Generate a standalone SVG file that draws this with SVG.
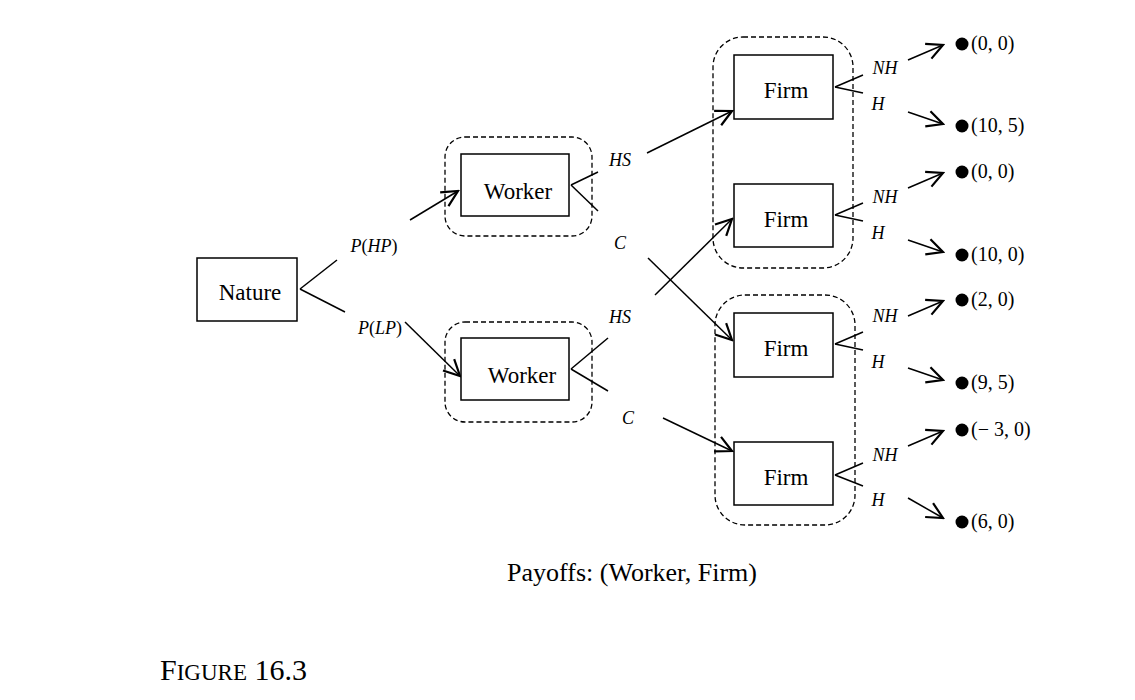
<svg xmlns="http://www.w3.org/2000/svg" width="1135" height="700" viewBox="0 0 1135 700" font-family="Liberation Serif, serif">
<defs>
<marker id="a" viewBox="0 0 20 20" refX="18" refY="10" markerWidth="20" markerHeight="20" markerUnits="userSpaceOnUse" orient="auto">
<path d="M2,2 L18,10 L2,18" fill="none" stroke="#000" stroke-width="2.2"/>
</marker>
</defs>
<style>
.b{fill:#fff;stroke:#000;stroke-width:1.5}
.d{fill:none;stroke:#000;stroke-width:1.3;stroke-dasharray:5,3}
.t{font-size:23px;text-anchor:middle}
.i{font-size:18px;font-style:italic;text-anchor:middle}
.p{font-size:20px}
line{stroke:#000;stroke-width:1.5}
.ar{marker-end:url(#a)}
</style>
<rect width="1135" height="700" fill="#fff"/>
<g id="groups">
<rect class="d" x="445" y="137" width="147" height="99" rx="20"/>
<rect class="d" x="445" y="322" width="147" height="100" rx="20"/>
<rect class="d" x="713" y="37" width="140" height="231" rx="30"/>
<rect class="d" x="715" y="295" width="140" height="230" rx="30"/>
</g>
<g id="connectors">
<line x1="300" y1="289" x2="337" y2="260"/>
<line x1="300" y1="289" x2="345" y2="312"/>
<line class="ar" x1="410" y1="220" x2="458" y2="191"/>
<line class="ar" x1="405" y1="322" x2="460" y2="376"/>
<line x1="571" y1="185" x2="598" y2="172"/>
<line x1="571" y1="185" x2="598" y2="211"/>
<line x1="571" y1="369" x2="608" y2="338"/>
<line x1="571" y1="369" x2="608" y2="391"/>
<line class="ar" x1="647" y1="153" x2="732" y2="111"/>
<line class="ar" x1="648" y1="258" x2="732" y2="340"/>
<line class="ar" x1="655" y1="295" x2="732" y2="219"/>
<line class="ar" x1="663" y1="418" x2="732" y2="451"/>
<line x1="835" y1="87" x2="863" y2="75"/><line x1="835" y1="87" x2="863" y2="93"/>
<line x1="835" y1="215" x2="863" y2="203"/><line x1="835" y1="215" x2="863" y2="221"/>
<line x1="835" y1="344" x2="863" y2="332"/><line x1="835" y1="344" x2="863" y2="350"/>
<line x1="835" y1="475" x2="863" y2="463"/><line x1="835" y1="475" x2="863" y2="486"/>
<line class="ar" x1="908" y1="60" x2="943" y2="45"/><line class="ar" x1="908" y1="112" x2="943" y2="124"/>
<line class="ar" x1="908" y1="188" x2="943" y2="173"/><line class="ar" x1="908" y1="240" x2="943" y2="252"/>
<line class="ar" x1="908" y1="316" x2="943" y2="301"/><line class="ar" x1="908" y1="368" x2="943" y2="380"/>
<line class="ar" x1="908" y1="446" x2="943" y2="431"/><line class="ar" x1="908" y1="498" x2="943" y2="518"/>
</g>
<g id="nature"><rect class="b" x="197" y="258" width="100" height="63"/><text class="t" x="250" y="300">Nature</text></g>
<g id="worker1"><rect class="b" x="461" y="154" width="108" height="62"/><text class="t" x="518" y="199">Worker</text></g>
<g id="worker2"><rect class="b" x="461" y="338" width="108" height="62"/><text class="t" x="522" y="383">Worker</text></g>
<g id="firm1"><rect class="b" x="734" y="55" width="99" height="64"/><text class="t" x="786" y="98">Firm</text></g>
<g id="firm2"><rect class="b" x="734" y="184" width="99" height="63"/><text class="t" x="786" y="227">Firm</text></g>
<g id="firm3"><rect class="b" x="734" y="313" width="99" height="64"/><text class="t" x="786" y="356">Firm</text></g>
<g id="firm4"><rect class="b" x="734" y="442" width="99" height="63"/><text class="t" x="786" y="485">Firm</text></g>
<g id="labels">
<text class="i" x="374" y="252">P<tspan font-style="normal">(</tspan>HP<tspan font-style="normal">)</tspan></text>
<text class="i" x="380" y="334">P<tspan font-style="normal">(</tspan>LP<tspan font-style="normal">)</tspan></text>
<text class="i" x="620" y="166">HS</text><text class="i" x="620" y="249">C</text>
<text class="i" x="620" y="323">HS</text><text class="i" x="628" y="424">C</text>
<text class="i" x="885" y="74">NH</text><text class="i" x="878" y="110">H</text>
<text class="i" x="885" y="203">NH</text><text class="i" x="878" y="239">H</text>
<text class="i" x="885" y="322">NH</text><text class="i" x="878" y="368">H</text>
<text class="i" x="885" y="461">NH</text><text class="i" x="878" y="506">H</text>
</g>
<g id="payoffs">
<circle cx="962" cy="44" r="6.5"/><text class="p" x="971" y="50">(0, 0)</text>
<circle cx="962" cy="126" r="6.5"/><text class="p" x="971" y="132">(10, 5)</text>
<circle cx="962" cy="172" r="6.5"/><text class="p" x="971" y="178">(0, 0)</text>
<circle cx="962" cy="255" r="6.5"/><text class="p" x="971" y="261">(10, 0)</text>
<circle cx="962" cy="300" r="6.5"/><text class="p" x="971" y="306">(2, 0)</text>
<circle cx="962" cy="383" r="6.5"/><text class="p" x="971" y="389">(9, 5)</text>
<circle cx="962" cy="430" r="6.5"/><text class="p" x="971" y="436">(− 3, 0)</text>
<circle cx="962" cy="522" r="6.5"/><text class="p" x="971" y="528">(6, 0)</text>
</g>
<text x="632" y="581" font-size="26" text-anchor="middle">Payoffs: (Worker, Firm)</text>
<text x="160" y="680" font-size="30">F<tspan font-size="23">IGURE</tspan> 16.3</text>
</svg>
